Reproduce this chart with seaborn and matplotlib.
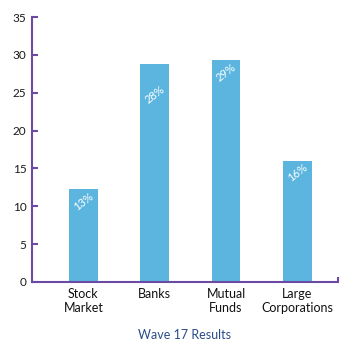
import matplotlib
matplotlib.use("Agg")
import matplotlib.pyplot as plt
import seaborn as sns
import pandas as pd

categories = ["Stock\nMarket", "Banks", "Mutual\nFunds", "Large\nCorporations"]
values = [12.3, 28.8, 29.3, 16.0]
labels = ["13%", "28%", "29%", "16%"]
yticks = [0, 5, 10, 15, 20, 25, 30, 35]
title = "Wave 17 Results"

# label offsets below bar top, in pixels (presentation only)
label_offsets = [13, 31, 12, 12]

sns.set_style("white")
plt.rcParams["font.family"] = ["Lato", "DejaVu Sans"]

purple = "#6b4aa3"
bar_color = "#5bb5de"

fig = plt.figure(figsize=(3.6, 3.5), dpi=100)
ax = fig.add_axes([32 / 360, 68 / 350, 306 / 360, 265 / 350])

df = pd.DataFrame({"cat": categories, "val": values})
sns.barplot(data=df, x="cat", y="val", color=bar_color, width=0.4,
            saturation=1, ax=ax, edgecolor="none")

ax.set_xlim(-0.72, 3.57)
ax.set_ylim(0, 35)
ax.set_yticks(yticks)
ax.set_xlabel("")
ax.set_ylabel("")

for s in ["top", "right"]:
    ax.spines[s].set_visible(False)
for s in ["left", "bottom"]:
    ax.spines[s].set_color(purple)
    ax.spines[s].set_linewidth(1.5)

ax.tick_params(axis="y", direction="in", length=4, width=1.5, color=purple,
               labelsize=8.5, labelcolor="#1a1a1a", pad=4, left=True)
ax.tick_params(axis="x", length=0, labelsize=9, labelcolor="#111111", pad=4)
for t in ax.get_xticklabels():
    t.set_linespacing(1.25)

# small end tick at right end of x axis
ax.plot([1, 1], [0, 0.02], transform=ax.transAxes, color=purple, lw=1.5,
        clip_on=False, solid_capstyle="butt")

for i, (v, lab, off) in enumerate(zip(values, labels, label_offsets)):
    ax.annotate(lab, xy=(i, v), xytext=(0, -off * 0.72), textcoords="offset points",
                ha="center", va="center", rotation=38, color="white", fontsize=8)

fig.text(185 / 360, 1 - 335 / 350, title, ha="center", va="center",
         fontsize=9, color="#2b4c8c")

fig.savefig("out.png", dpi=100, facecolor="white")
